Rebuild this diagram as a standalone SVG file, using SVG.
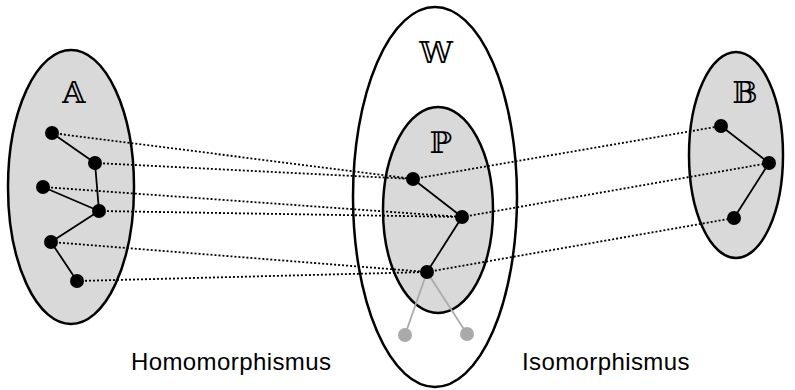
<svg xmlns="http://www.w3.org/2000/svg" width="795" height="390" viewBox="0 0 795 390">
<style>
.set{fill:#d9d9d9;stroke:#000;stroke-width:2.5}
.outer{fill:#fff;stroke:#000;stroke-width:2.5}
.lbl{font-family:"DejaVu Serif","DejaVu Sans",serif;font-size:30px;text-anchor:middle;fill:#000}
.cap{font-family:"Liberation Sans",Arial,sans-serif;font-size:24px;letter-spacing:0.4px;fill:#000}
.map{stroke:#000;stroke-width:1.8;stroke-dasharray:2,2;fill:none}
.edge{stroke:#000;stroke-width:1.8;fill:none}
.gedge{stroke:#aaa;stroke-width:1.8;fill:none}
.n{fill:#000}
.g{fill:#aaa}
</style>
<rect width="795" height="390" fill="#fff"/>
<g id="W">
<ellipse class="outer" cx="435" cy="197" rx="82" ry="190"/>
<text class="lbl" x="436" y="63">𝕎</text>
</g>
<g id="A">
<ellipse class="set" cx="71" cy="187" rx="63" ry="137"/>
<text class="lbl" x="74" y="103">𝔸</text>
</g>
<g id="P">
<ellipse class="set" cx="438" cy="210" rx="55" ry="103"/>
<text class="lbl" x="441" y="153">ℙ</text>
</g>
<g id="B">
<ellipse class="set" cx="736" cy="155" rx="47" ry="103"/>
<text class="lbl" x="745" y="103">𝔹</text>
</g>
<g id="connectors">
<line class="map" x1="52" y1="133" x2="413" y2="179"/>
<line class="map" x1="95" y1="163" x2="413" y2="179"/>
<line class="map" x1="43" y1="187" x2="462" y2="217"/>
<line class="map" x1="99" y1="211" x2="462" y2="217"/>
<line class="map" x1="51" y1="242" x2="427" y2="272"/>
<line class="map" x1="77" y1="281" x2="427" y2="272"/>
<line class="map" x1="413" y1="179" x2="721" y2="126"/>
<line class="map" x1="462" y1="217" x2="769" y2="163"/>
<line class="map" x1="427" y1="272" x2="734" y2="218"/>
<line class="edge" x1="52" y1="133" x2="95" y2="163"/>
<line class="edge" x1="95" y1="163" x2="99" y2="211"/>
<line class="edge" x1="43" y1="187" x2="99" y2="211"/>
<line class="edge" x1="99" y1="211" x2="51" y2="242"/>
<line class="edge" x1="51" y1="242" x2="77" y2="281"/>
<line class="edge" x1="413" y1="179" x2="462" y2="217"/>
<line class="edge" x1="462" y1="217" x2="427" y2="272"/>
<line class="gedge" x1="427" y1="272" x2="405" y2="335"/>
<line class="gedge" x1="427" y1="272" x2="467" y2="334"/>
<line class="edge" x1="721" y1="126" x2="769" y2="163"/>
<line class="edge" x1="769" y1="163" x2="734" y2="218"/>
</g>
<g id="nodesA">
<circle class="n" cx="52" cy="133" r="7"/>
<circle class="n" cx="95" cy="163" r="7"/>
<circle class="n" cx="43" cy="187" r="7"/>
<circle class="n" cx="99" cy="211" r="7"/>
<circle class="n" cx="51" cy="242" r="7"/>
<circle class="n" cx="77" cy="281" r="7"/>
</g>
<g id="nodesP">
<circle class="n" cx="413" cy="179" r="7"/>
<circle class="n" cx="462" cy="217" r="7"/>
<circle class="n" cx="427" cy="272" r="7"/>
<circle class="g" cx="405" cy="335" r="7"/>
<circle class="g" cx="467" cy="334" r="7"/>
</g>
<g id="nodesB">
<circle class="n" cx="721" cy="126" r="7"/>
<circle class="n" cx="769" cy="163" r="7"/>
<circle class="n" cx="734" cy="218" r="7"/>
</g>
<g id="captions">
<text class="cap" x="131" y="370">Homomorphismus</text>
<text class="cap" x="522" y="370">Isomorphismus</text>
</g>
</svg>
